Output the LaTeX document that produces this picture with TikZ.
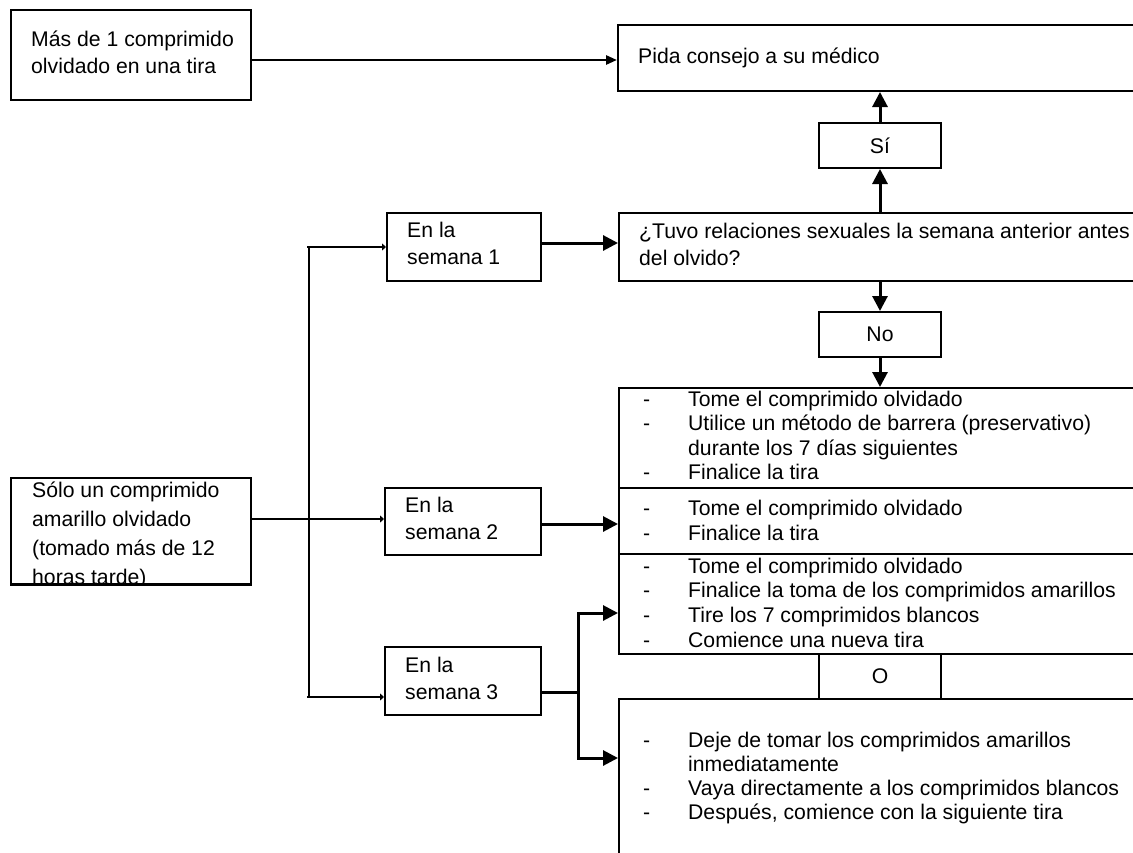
\documentclass[tikz,border=0pt]{standalone}
\usepackage{fontspec}
\setmainfont{Liberation Sans}
\usetikzlibrary{arrows.meta,calc}
\newcommand{\mlines}[2]{\fontsize{21.2}{#1}\selectfont\begin{tabular}[t]{@{}l@{}}#2\end{tabular}}
\newcommand{\itm}[1]{\makebox[45pt][l]{-}#1}
\newcommand{\cont}[1]{\hspace*{45pt}#1}
\begin{document}
\begin{tikzpicture}[x=1pt,y=-1pt,
  box/.style={draw,line width=2pt,inner sep=0pt,anchor=north west},
  txt/.style={inner sep=0pt,anchor=base west,font=\fontsize{21.2}{25}\selectfont},
  ctxt/.style={inner sep=0pt,font=\fontsize{21.2}{25}\selectfont},
  arr/.style={line width=3pt,line join=miter,-{Triangle[length=15pt,width=15pt]}},
  arrs/.style={line width=2.6pt,-{Triangle[length=11pt,width=9pt]}},
  trunk/.style={line width=1.5pt},
  thinarr/.style={line width=2.2pt,-{Triangle[length=4pt,width=7pt]}}]
\fill[white] (0,0) rectangle (1133,852);
\useasboundingbox (0,0) rectangle (1133,852);
\clip (0,0) rectangle (1133,852);

% boxes
\node[box,minimum width=240pt,minimum height=90pt] (A) at (10,9) {};
\node[box,minimum width=540pt,minimum height=66pt] (P) at (617,24) {};
\node[box,minimum width=122pt,minimum height=45pt] (Si) at (818,122) {};
\node[box,minimum width=540pt,minimum height=68pt] (Q) at (618,212) {};
\node[box,minimum width=122pt,minimum height=45pt] (No) at (818,311) {};
\node[box,minimum width=540pt,minimum height=100pt] (R1) at (618,387) {};
\node[box,minimum width=540pt,minimum height=66pt] (R2) at (618,487) {};
\node[box,minimum width=540pt,minimum height=100pt] (R3) at (618,553) {};
\node[box,minimum width=122pt,minimum height=45pt] (O) at (818,653) {};
\node[box,minimum width=540pt,minimum height=190pt] (R4) at (618,698) {};
\node[box,minimum width=154pt,minimum height=68pt] (S1) at (386,212) {};
\node[box,minimum width=156pt,minimum height=67pt] (S2) at (384,487) {};
\node[box,minimum width=156pt,minimum height=68pt] (S3) at (384,646) {};
\node[box,minimum width=240pt,minimum height=106pt] (C) at (10,477) {};

% texts
\node[txt] (tA) at (31,46) {\mlines{27pt}{Más de 1 comprimido\\olvidado en una tira}};
\node[txt] (tP) at (638,63) {Pida consejo a su médico};
\node[ctxt] (tSi) at (Si) {Sí};
\node[txt] (tQ) at (639,238) {\mlines{27pt}{¿Tuvo relaciones sexuales la semana anterior antes\\del olvido?}};
\node[ctxt] (tNo) at (No) {No};
\node[txt] (tR1) at (643,406) {\mlines{24.5pt}{\itm{Tome el comprimido olvidado}\\\itm{Utilice un método de barrera (preservativo)}\\\cont{durante los 7 días siguientes}\\\itm{Finalice la tira}}};
\node[txt] (tR2) at (643,515) {\mlines{25pt}{\itm{Tome el comprimido olvidado}\\\itm{Finalice la tira}}};
\node[txt] (tR3) at (643,573) {\mlines{24.7pt}{\itm{Tome el comprimido olvidado}\\\itm{Finalice la toma de los comprimidos amarillos}\\\itm{Tire los 7 comprimidos blancos}\\\itm{Comience una nueva tira}}};
\node[ctxt] (tO) at (O) {O};
\node[txt] (tR4) at (643,747) {\mlines{24.3pt}{\itm{Deje de tomar los comprimidos amarillos}\\\cont{inmediatamente}\\\itm{Vaya directamente a los comprimidos blancos}\\\itm{Después, comience con la siguiente tira}}};
\node[txt] (tS1) at (407,237) {\mlines{27pt}{En la\\semana 1}};
\node[txt] (tS2) at (405,512) {\mlines{27pt}{En la\\semana 2}};
\node[txt] (tS3) at (405,672) {\mlines{27pt}{En la\\semana 3}};
\begin{scope}
\clip (C.north west) rectangle (C.south east);
\node[txt] (tC) at (32,497) {\mlines{29pt}{Sólo un comprimido\\amarillo olvidado\\(tomado más de 12\\horas tarde)}};
\end{scope}
\draw[line width=2pt] (C.south west) -- (C.south east);

% connectors
\coordinate (a1) at ($(A.east)+(0,5)$);
\draw[arrs] (a1) -- (a1 -| P.west);
\draw[arr] (Si.south |- Q.north) -- (Si.south);
\draw[arr] (Si.north) -- (Si.north |- P.south);
\draw[arr] (No.north |- Q.south) -- (No.north);
\draw[arr] (No.south) -- (No.south |- R1.north);

\coordinate (t1) at (309,247);
\coordinate (t3) at (309,697);
\draw[trunk] (t1) -- (t3);
\draw[thinarr] ($(t1)+(-2,0)$) -- (t1 -| S1.west);
\draw[thinarr] ($(t3)+(-2,0)$) -- (t3 -| S3.west);
\coordinate (c1) at ($(C.east)+(0,-12)$);
\draw[thinarr] (c1) -- (c1 -| S2.west);

\coordinate (s1) at ($(S1.east)+(0,-4)$);
\draw[arr] (s1) -- (s1 -| Q.west);
\coordinate (s2) at ($(S2.east)+(0,2.5)$);
\draw[arr] (s2) -- (s2 -| R2.west);
\coordinate (s3) at ($(S3.east)+(0,11)$);
\coordinate (j1) at (578,613);
\coordinate (j2) at (578,758);
\coordinate (j) at (s3 -| j1);
\draw[line width=3pt,line cap=rect] (s3) -- (j);
\draw[arr] (j) -- (j1) -- (j1 -| R3.west);
\draw[arr] (j) -- (j2) -- (j2 -| R4.west);
\end{tikzpicture}
\end{document}
